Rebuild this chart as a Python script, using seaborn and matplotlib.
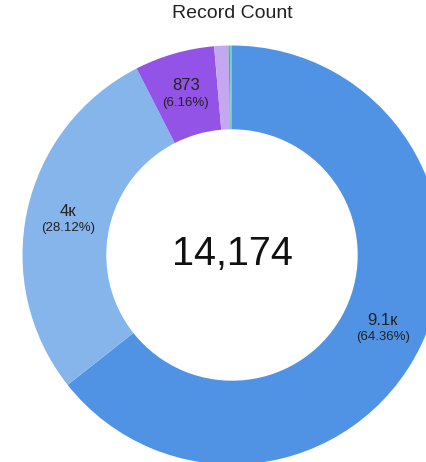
import numpy as np
import matplotlib
matplotlib.use("Agg")
import matplotlib.pyplot as plt
import seaborn as sns

# Record counts per group, drawn clockwise from 12 o'clock
groups = ["A", "B", "C", "D", "E", "F"]
counts = [9122, 3986, 873, 155, 15, 23]
colors = ["#5093E5", "#86B5EC", "#9353E6", "#C4A6F1", "#45AE93", "#6CCFC9"]
labelled = [True, True, True, False, False, False]
title = "Record Count"

sns.set_theme(style="white")
plt.rcParams["font.family"] = ["Liberation Sans", "DejaVu Sans"]

W, H = 426, 462
fig = plt.figure(figsize=(W / 100, H / 100), dpi=100)
ax = fig.add_axes([0, 0, 1, 1])

cx, cy = 232, H - 255
outer = 209.5
ring = 0.4 * outer

wedges, _ = ax.pie(
    counts,
    colors=colors,
    startangle=90,
    counterclock=False,
    radius=outer,
    center=(cx, cy),
    frame=True,
    wedgeprops=dict(width=ring, linewidth=0),
)
ax.set_xlim(0, W)
ax.set_ylim(0, H)
ax.set_aspect("equal")
ax.axis("off")


def short(v):
    if v >= 1000:
        s = f"{v / 1000:.1f}".rstrip("0").rstrip(".")
        return s + "к"
    return str(v)


total = sum(counts)
label_r = outer - ring / 2
for w, v, show in zip(wedges, counts, labelled):
    if not show:
        continue
    mid = np.deg2rad((w.theta1 + w.theta2) / 2)
    x = cx + label_r * np.cos(mid)
    y = cy + label_r * np.sin(mid)
    ax.text(x, y + 8, short(v), ha="center", va="center",
            fontsize=12, color="#222222")
    ax.text(x, y - 9, f"({100 * v / total:.2f}%)", ha="center", va="center",
            fontsize=9.5, color="#222222")

ax.text(cx, H - 254, f"{total:,}", ha="center", va="center",
        fontsize=28.5, color="#111111")
ax.text(cx, H - 14, title, ha="center", va="center",
        fontsize=14, color="#222222")

fig.savefig("out.png", dpi=100)
